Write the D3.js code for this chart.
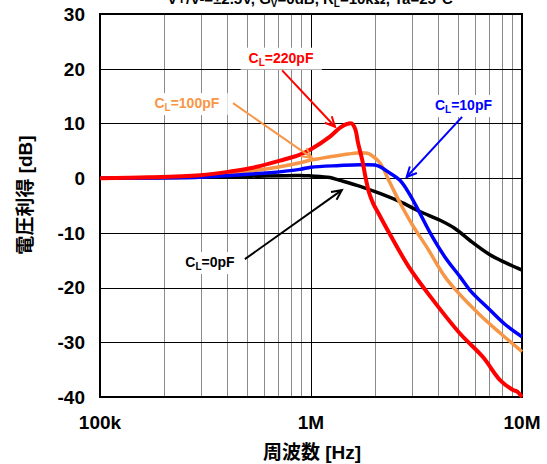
<!DOCTYPE html>
<html><head><meta charset="utf-8">
<script src="https://cdn.jsdelivr.net/npm/d3@7"></script>
<style>body{margin:0;background:#fff}svg{display:block}</style>
</head><body>
<svg id="c" width="547" height="464"></svg>
<script>
// ---- data ----
const freq220 = [100e3,172e3,298e3,413e3,514e3,713e3,887e3,1.0e6,1.23e6,1.37e6,1.48e6,1.56e6,1.62e6,1.67e6,1.75e6,1.81e6,1.88e6,1.97e6,2.1e6,2.37e6,2.94e6,3.79e6,5.08e6,6.53e6,7.87e6,9.06e6,9.5e6,10e6];
const gain220 = [0,0.15,0.55,1.2,1.8,3.2,4.3,5.3,7.6,9.2,9.9,10.0,9.0,6.5,3.3,0.3,-2.5,-4.6,-6.6,-10.3,-16.5,-22.3,-28.4,-32.7,-36.9,-38.7,-39.0,-40];
const freq100 = [100e3,298e3,413e3,514e3,713e3,887e3,1.0e6,1.23e6,1.5e6,1.71e6,1.85e6,1.95e6,2.12e6,2.37e6,2.64e6,3.04e6,3.55e6,4.31e6,4.92e6,6.32e6,7.87e6,10e6];
const gain100 = [0,0.4,0.9,1.3,2.1,2.8,3.3,3.9,4.4,4.65,4.55,4.1,2.8,-0.9,-4.5,-8.7,-12.7,-18,-20.7,-25,-28.3,-31.7];
const freq10 = [100e3,298e3,413e3,639e3,887e3,1.0e6,1.37e6,1.71e6,2.01e6,2.12e6,2.37e6,2.64e6,2.94e6,3.28e6,3.67e6,4.31e6,5.08e6,5.67e6,7.05e6,8.30e6,10e6];
const gain10 = [0,0.15,0.5,1.0,1.6,2.0,2.3,2.45,2.4,2.1,0.9,-0.4,-3,-6.4,-10,-14.4,-18,-20.5,-24.1,-26.7,-29];
const freq0 = [100e3,298e3,514e3,887e3,1.0e6,1.23e6,1.37e6,1.71e6,2.12e6,2.64e6,3.28e6,4.09e6,4.81e6,5.67e6,7.05e6,8.3e6,10e6];
const gain0 = [0,0.15,0.35,0.5,0.4,0.1,-0.4,-1.5,-2.8,-4.3,-6.1,-7.7,-9.2,-11.4,-14,-15.4,-16.8];

const yTicks = [-40,-30,-20,-10,0,10,20,30];
const xTickValues = [1e5,1e6,1e7];
const xTickLabels = ["100k","1M","10M"];
const xTitle = "周波数 [Hz]";
const yTitle = "電圧利得 [dB]";

// label anchors (data coords): [labelF, labelDb, fromF, fromDb, tipF, tipDb]
const labelNames = ["220pF","100pF","10pF","0pF"];
const labelColors = ["#FF0000","#F79646","#0000FF","#000000"];
const labelPos = [
  [721e3,21.1, 730e3,19.7, 1.30e6,9.4],
  [258e3,12.8, 427e3,13.7, 1.01e6,3.7],
  [5.28e6,12.45, 5.20e6,11.2, 2.84e6,0.2],
  [332e3,-16.25, 486e3,-14.8, 1.40e6,-2.2]
];

// ---- chart ----
const svg = d3.select("#c");
const L=100,R=522,T=14,B=397;
const x = d3.scaleLog().domain([1e5,1e7]).range([L,R]);
const y = d3.scaleLinear().domain([-40,30]).range([B,T]);
const font = "'Liberation Sans', Arial, sans-serif";
const cjk = "'Liberation Sans', 'Noto Sans CJK JP', sans-serif";

// title (cut off at the top, as in the reference)
const tt = svg.append("text").attr("x",310).attr("y",4).attr("text-anchor","middle")
  .attr("font-family",font).attr("font-weight","bold").attr("font-size",15).attr("fill","#000");
tt.append("tspan").text("V+/V-=±2.5V, G");
tt.append("tspan").attr("font-size",10).attr("dy",3).text("V");
tt.append("tspan").attr("dy",-3).text("=0dB, R");
tt.append("tspan").attr("font-size",10).attr("dy",3).text("L");
tt.append("tspan").attr("dy",-3).text("=10kΩ, Ta=25°C");

// minor vertical gridlines
const minor = [];
for (const dec of [1e5,1e6]) for (let k=2;k<=9;k++) minor.push(dec*k);
svg.append("g").selectAll("line").data(minor).join("line")
  .attr("x1",d=>Math.round(x(d))+0.5).attr("x2",d=>Math.round(x(d))+0.5)
  .attr("y1",T).attr("y2",B).attr("stroke","#8a8a8a").attr("stroke-width",1);
svg.append("g").selectAll("line").data([1e6]).join("line")
  .attr("x1",d=>Math.round(x(d))+0.5).attr("x2",d=>Math.round(x(d))+0.5)
  .attr("y1",T).attr("y2",B).attr("stroke","#000").attr("stroke-width",1);
svg.append("g").selectAll("line").data(yTicks).join("line")
  .attr("x1",L).attr("x2",R)
  .attr("y1",d=>Math.round(y(d))+0.5).attr("y2",d=>Math.round(y(d))+0.5)
  .attr("stroke","#000").attr("stroke-width",1);

// label boxes (white) drawn over grid
const labelsG = svg.append("g");
const labelTexts = labelNames.map((n,i)=>{
  const p = labelPos[i];
  const t = labelsG.append("text").attr("x",x(p[0])).attr("y",y(p[1]))
    .attr("text-anchor","middle").attr("font-family",font).attr("font-weight","bold")
    .attr("font-size",14).attr("fill",labelColors[i]);
  t.append("tspan").text("C");
  t.append("tspan").attr("font-size",10).attr("dy",3).text("L");
  t.append("tspan").attr("dy",-3).text("="+n);
  return t;
});
labelTexts.forEach(t=>{
  const bb = t.node().getBBox();
  labelsG.insert("rect",":first-child").attr("x",bb.x-8).attr("y",bb.y-2)
    .attr("width",bb.width+16).attr("height",bb.height+4).attr("fill","#fff");
});

// frame
svg.append("rect").attr("x",L).attr("y",T).attr("width",R-L).attr("height",B-T)
  .attr("fill","none").attr("stroke","#000").attr("stroke-width",2);

// curves
const line = d3.line().x(d=>x(d[0])).y(d=>y(d[1])).curve(d3.curveCatmullRom.alpha(0.5));
const series = [
  {f:freq0,g:gain0,c:"#000000",w:3.5},
  {f:freq100,g:gain100,c:"#F79646",w:3.5},
  {f:freq10,g:gain10,c:"#0000FF",w:3.5},
  {f:freq220,g:gain220,c:"#FF0000",w:4}
];
svg.append("clipPath").attr("id","pc").append("rect")
  .attr("x",L).attr("y",T-2).attr("width",R-L+1).attr("height",B-T+4);
series.forEach(s=>{
  svg.append("path").datum(s.f.map((f,i)=>[f,s.g[i]])).attr("d",line)
    .attr("fill","none").attr("stroke",s.c).attr("stroke-width",s.w)
    .attr("stroke-linejoin","round").attr("clip-path","url(#pc)");
});

// arrows
labelPos.forEach((p,i)=>{
  const x1=x(p[2]),y1=y(p[3]),x2=x(p[4]),y2=y(p[5]);
  const g = svg.append("g").attr("stroke",labelColors[i]).attr("stroke-width",2).attr("fill","none");
  g.append("line").attr("x1",x1).attr("y1",y1).attr("x2",x2).attr("y2",y2);
  const a = Math.atan2(y2-y1,x2-x1), h=11, sp=0.45;
  g.append("path").attr("d",`M${x2-h*Math.cos(a-sp)},${y2-h*Math.sin(a-sp)}L${x2},${y2}L${x2-h*Math.cos(a+sp)},${y2-h*Math.sin(a+sp)}`);
});

// axis labels
svg.append("g").selectAll("text").data(yTicks).join("text")
  .attr("x",85).attr("y",d=>y(d)).attr("dy","0.36em").attr("text-anchor","end")
  .attr("font-family",font).attr("font-weight","bold").attr("font-size",19).text(d=>d);
svg.append("g").selectAll("text").data(xTickValues).join("text")
  .attr("x",d=>x(d)).attr("y",429).attr("text-anchor","middle")
  .attr("font-family",font).attr("font-weight","bold").attr("font-size",19)
  .text((d,i)=>xTickLabels[i]);
svg.append("text").attr("x",312).attr("y",459).attr("text-anchor","middle")
  .attr("font-family",cjk).attr("font-weight","bold").attr("font-size",19).text(xTitle);
svg.append("text").attr("transform","translate(32,195) rotate(-90)").attr("text-anchor","middle")
  .attr("font-family",cjk).attr("font-weight","bold").attr("font-size",19).text(yTitle);
</script>
</body></html>
